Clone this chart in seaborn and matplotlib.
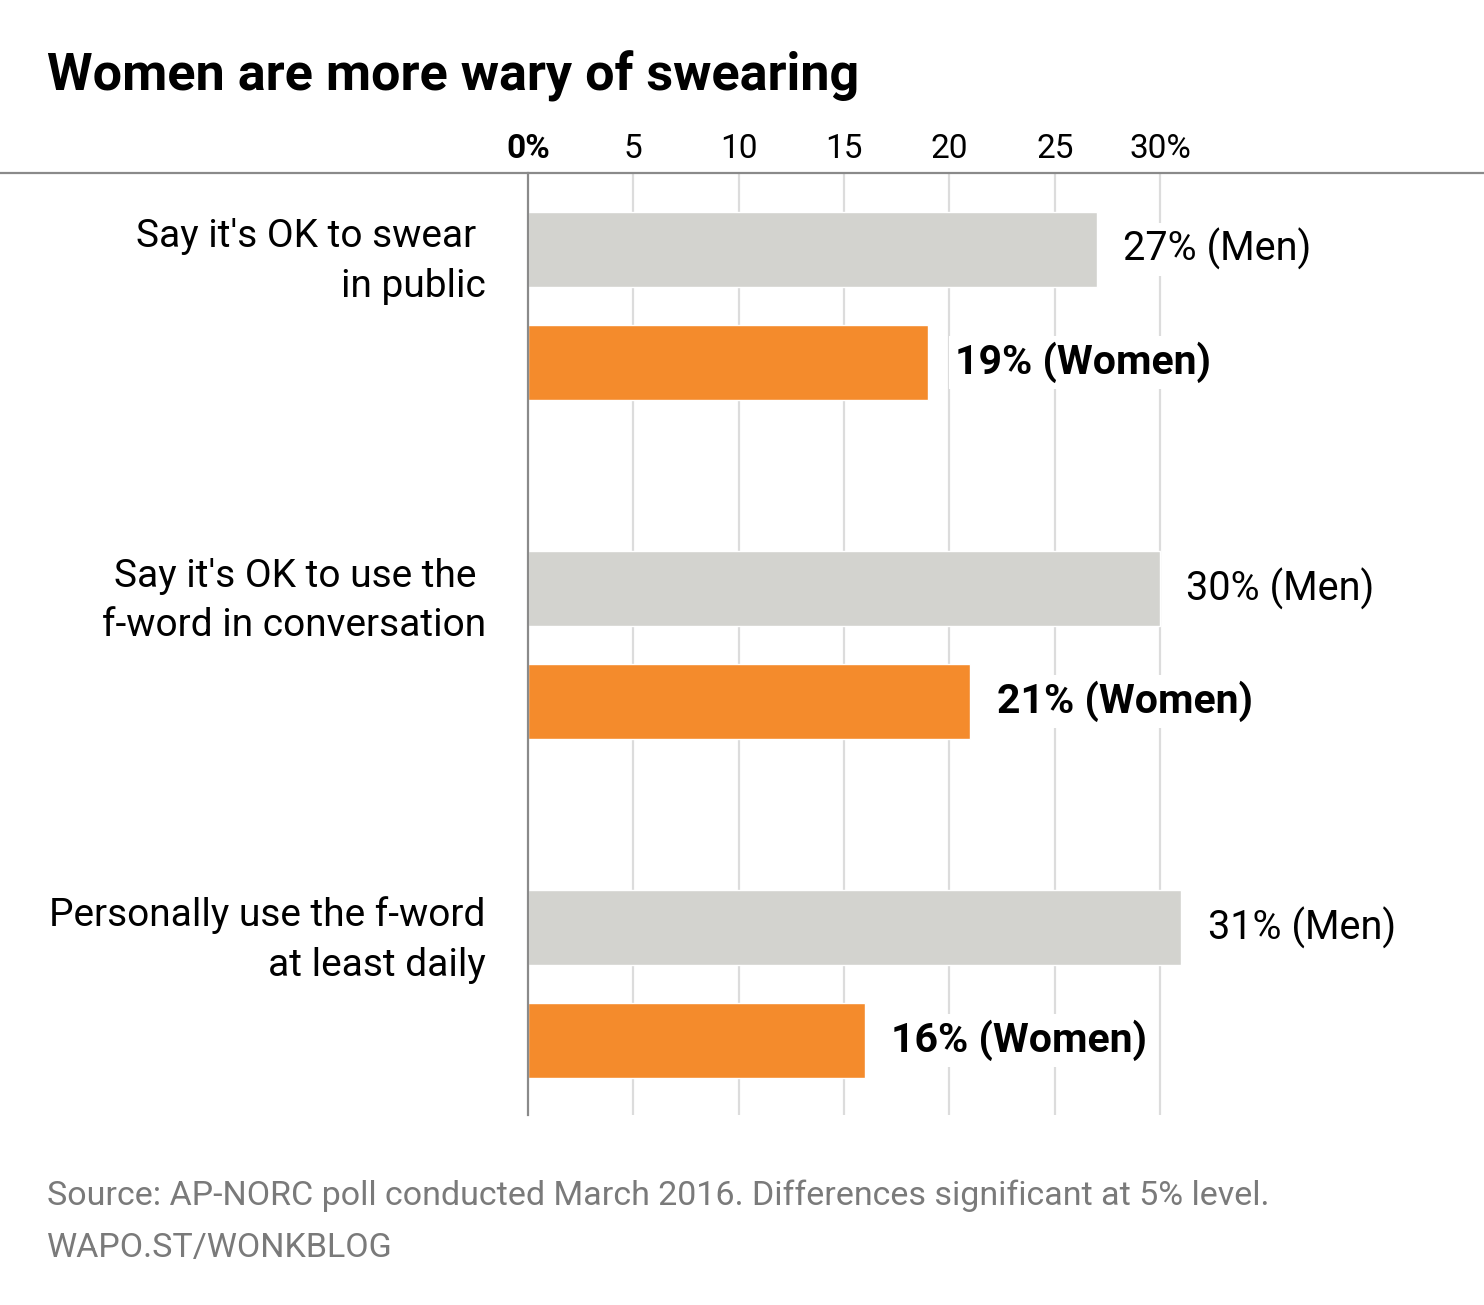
import pandas as pd
import matplotlib.pyplot as plt
from matplotlib.lines import Line2D
import seaborn as sns

# -------------------
# Data
# -------------------
questions = [
    "Say it's OK to swear \nin public",
    "Say it's OK to use the \nf-word in conversation",
    "Personally use the f-word\nat least daily",
]
men = [27, 30, 31]
women = [19, 21, 16]
ticks = [0, 5, 10, 15, 20, 25, 30]
tick_labels = ["0%", "5", "10", "15", "20", "25", "30%"]

df = pd.DataFrame({
    "question": questions * 2,
    "group": ["Men"] * 3 + ["Women"] * 3,
    "value": men + women,
})

sns.set_theme(style="white")
plt.rcParams["font.family"] = ["Roboto", "DejaVu Sans"]
plt.rcParams["text.color"] = "black"

W, H = 1484, 1305
fig = plt.figure(figsize=(W / 100, H / 100), dpi=100)
ax = fig.add_axes([528 / W, 1 - 1115 / H, 1 - 528 / W, (1115 - 173) / H])

sns.barplot(data=df, y="question", x="value", hue="group", orient="h",
            palette={"Men": "#d3d3cf", "Women": "#f48b2c"},
            width=0.667, gap=0.336, saturation=1, legend=False, ax=ax,
            zorder=2)

ax.set_xlim(0, (W - 528) / 21.07)
ax.set_ylim(2.386, -0.392)

# gridlines
for t in ticks[1:]:
    ax.axvline(t, color="#dcdcdc", lw=1.6, zorder=0)

for s in ["top", "right", "bottom"]:
    ax.spines[s].set_visible(False)
ax.spines["left"].set_color("#8a8a8a")
ax.spines["left"].set_linewidth(1.6)

ax.set_ylabel("")
ax.set_xlabel("")
ax.set_yticks([])
ax.xaxis.tick_top()
ax.set_xticks(ticks)
ax.set_xticklabels(tick_labels)
ax.tick_params(axis="x", length=0, pad=6, labelsize=24, colors="black")
ax.get_xticklabels()[0].set_fontweight("bold")

# category labels and value labels
for i, q in enumerate(questions):
    ax.text(-2.0, i - 0.13, q, ha="right", va="center", fontsize=28,
            linespacing=1.44, clip_on=False)
    ax.text(men[i] + 1.25, i - 0.1667, f"{men[i]}% (Men)", ha="left",
            va="center", fontsize=28.5, zorder=3,
            bbox=dict(facecolor="white", edgecolor="none", pad=4))
    ax.text(women[i] + 1.25, i + 0.1667, f"{women[i]}% (Women)", ha="left",
            va="center", fontsize=29.5, fontweight="bold", zorder=3,
            bbox=dict(facecolor="white", edgecolor="none", pad=4))

# header line across the figure
fig.add_artist(Line2D([0, 1], [1 - 173 / H, 1 - 173 / H], color="#8a8a8a",
                      lw=1.6, transform=fig.transFigure))

fig.text(47 / W, 1 - 90 / H, "Women are more wary of swearing",
         fontsize=37.5, fontweight="bold", ha="left", va="baseline")
fig.text(47 / W, 1 - 1205 / H,
         "Source: AP-NORC poll conducted March 2016. Differences significant at 5% level.",
         fontsize=24.5, color="#7a7a7a", ha="left", va="baseline")
fig.text(47 / W, 1 - 1257 / H, "WAPO.ST/WONKBLOG",
         fontsize=24.5, color="#7a7a7a", ha="left", va="baseline")

fig.savefig("out.png", dpi=100, facecolor="white")
